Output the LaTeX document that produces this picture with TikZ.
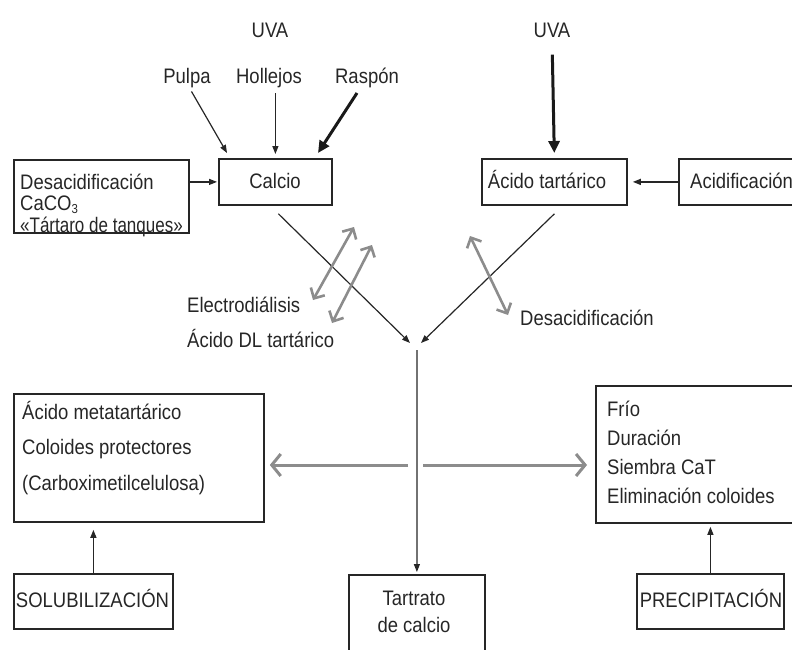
\documentclass[tikz,border=0pt]{standalone}
\usepackage{fontspec}
\usepackage{graphicx}
\setmainfont[FakeStretch=0.88]{Liberation Sans}
\usetikzlibrary{arrows.meta}

\tikzset{
  box/.style={draw=black!85, line width=1.8pt, inner sep=0pt, anchor=north west},
  txt/.style={font=\fontsize{21}{25}\selectfont, text=black!85, inner sep=0pt,
              text height=15pt, text depth=0pt},
  arr/.style={draw=black!85, line width=1.2pt, -{Triangle[length=8pt,width=6pt]}},
  thickarr/.style={draw=black!90, line width=3pt, -{Triangle[length=12pt,width=11pt]}},
  garr/.style={draw=black!45, line width=3pt, -{Straight Barb[length=9pt,width=22pt,line width=3pt]}},
  gdbl/.style={draw=black!45, line width=2.6pt,
               {Straight Barb[length=8pt,width=16pt,line width=2.6pt]}-{Straight Barb[length=8pt,width=16pt,line width=2.6pt]}}
}

\begin{document}
\begin{tikzpicture}[x=1pt,y=-1pt]
\useasboundingbox (0,0) rectangle (792,650);
\clip (0,0) rectangle (792,650);

% ---- boxes ----
\node[box, minimum width=113pt, minimum height=46pt] (calcio) at (218,158) {};
\node[box, minimum width=145pt, minimum height=46pt] (acido) at (481,158) {};
\node[box, minimum width=152pt, minimum height=46pt] (acidif) at (678,158) {};
\node[box, minimum width=175pt, minimum height=73pt] (desac) at (13,159) {};
\node[box, minimum width=250pt, minimum height=128pt] (leftbox) at (13,393) {};
\node[box, minimum width=235pt, minimum height=137pt] (rightbox) at (595,385) {};
\node[box, minimum width=159pt, minimum height=55pt] (solub) at (13,573) {};
\node[box, minimum width=147pt, minimum height=55pt] (precip) at (636,573) {};
\node[box, minimum width=136pt, minimum height=110pt] (tartrato) at (348,574) {};

% ---- texts ----
\node[txt] (uva1) at (270,30) {UVA};
\node[txt] (uva2) at (552,30) {UVA};
\node[txt] (pulpa) at (187,76) {Pulpa};
\node[txt] (hollejos) at (269,76) {Hollejos};
\node[txt] (raspon) at (367,76) {Raspón};

\node[txt] (tcalcio) at (275,181) {Calcio};
\node[txt] (tacido) at (547,181) {Ácido tartárico};
\node[txt, anchor=west] (tacidif) at (690,181) {Acidificación};

\node[txt, anchor=west] (td1) at (20,182) {Desacidificación};
\node[txt, anchor=west] (td2) at (20,203) {CaCO\raisebox{-3pt}{\fontsize{13}{13}\selectfont 3}};
\node[txt, anchor=west] (td3) at (20,225) {\scalebox{0.92}[1]{«Tártaro de tanques»}};

\node[txt, anchor=west] (electro) at (187,305) {Electrodiálisis};
\node[txt, anchor=west] (acidodl) at (187,340) {Ácido DL tartárico};
\node[txt, anchor=west] (desacr) at (520,318) {Desacidificación};

\node[txt, anchor=west] (tl1) at (22,412) {Ácido metatartárico};
\node[txt, anchor=west] (tl2) at (22,447) {Coloides protectores};
\node[txt, anchor=west] (tl3) at (22,483) {(Carboximetilcelulosa)};

\node[txt, anchor=west] (tr1) at (607,409) {Frío};
\node[txt, anchor=west] (tr2) at (607,438) {Duración};
\node[txt, anchor=west] (tr3) at (607,467) {Siembra CaT};
\node[txt, anchor=west] (tr4) at (607,496) {Eliminación coloides};

\node[txt] (tsolub) at (92.5,600) {SOLUBILIZACIÓN};
\node[txt] (tprecip) at (711,600) {PRECIPITACIÓN};
\node[txt] (tt1) at (414,598) {Tartrato};
\node[txt] (tt2) at (414,625) {de calcio};

% ---- junction points ----
\coordinate (pulpaIn) at (227,153);
\coordinate (raspIn) at (318,153);
\coordinate (raspOut) at (357,93);
\coordinate (jl) at (410,343);
\coordinate (jr) at (421,343);
\coordinate (jtop) at (417,350);
\coordinate (gl) at (408,465);
\coordinate (gr) at (423,465);

% ---- black connectors ----
\draw[arr, shorten <=9pt] (pulpa.south) -- (pulpaIn);
\draw[arr, shorten <=9.5pt, shorten >=4pt] (hollejos.south -| calcio.north) -- (calcio.north);
\draw[thickarr] (raspOut) -- (raspIn);
\draw[thickarr, shorten <=17pt, shorten >=5pt] (uva2.south) -- (acido.north);
\draw[arr, shorten >=1pt] (calcio.west -| desac.east) -- (calcio.west);
\draw[arr, shorten >=5pt] (acidif.west) -- (acido.east);
\draw[arr] ([shift={(3,8)}]calcio.south) -- (jl);
\draw[arr] ([shift={(0,8)}]acido.south) -- (jr);
\draw[arr, shorten >=2pt] (jtop) -- (tartrato.north);
\draw[arr, shorten >=7pt] (solub.north) -- (solub.north |- leftbox.south);
\draw[arr, shorten >=3pt] (precip.north) -- (precip.north |- rightbox.south);

% ---- grey treatment arrows ----
\draw[garr, shorten >=5pt] (gl) -- (leftbox.east |- gl);
\draw[garr, shorten >=8pt] (gr) -- (rightbox.west |- gr);
\coordinate (e1a) at (313,300); \coordinate (e1b) at (354,227);
\coordinate (e2a) at (332,323); \coordinate (e2b) at (372,245);
\coordinate (d1a) at (470,236); \coordinate (d1b) at (508,315);
\draw[gdbl] (e1a) -- (e1b);
\draw[gdbl] (e2a) -- (e2b);
\draw[gdbl] (d1a) -- (d1b);
\end{tikzpicture}
\end{document}
